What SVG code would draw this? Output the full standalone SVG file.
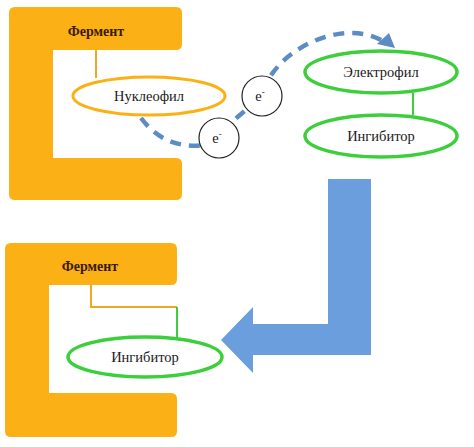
<svg xmlns="http://www.w3.org/2000/svg" width="474" height="447" viewBox="0 0 474 447">
<style>
.enz{fill:#fbb116}
.lbl{font-family:"Liberation Serif","DejaVu Serif",serif;font-size:14.5px;fill:#1a1a1a;text-anchor:middle}
.enzt{font-family:"Liberation Serif","DejaVu Serif",serif;font-size:14px;font-weight:bold;fill:#3a1a05;text-anchor:middle}
.ov{fill:#fff;stroke:#fbb116;stroke-width:3}
.gv{fill:#fff;stroke:#3ccf3c;stroke-width:3.5}
.el{fill:#fff;stroke:#222;stroke-width:1.2}
.oline{stroke:#f0a820;stroke-width:2;fill:none}
.gline{stroke:#3ccf3c;stroke-width:2;fill:none}
</style>
<rect width="474" height="447" fill="#fff"/>
<g id="enzyme-top">
<path class="enz" d="M15,7 H176 Q182,7 182,13 V44 Q182,50 176,50 H53 V158 H176 Q182,158 182,164 V194 Q182,200 176,200 H15 Q9,200 9,194 V13 Q9,7 15,7 Z"/>
<text class="enzt" x="96" y="36">Фермент</text>
</g>
<g id="connectors">
<line class="oline" x1="96" y1="50" x2="96" y2="78"/>
<line class="gline" x1="413" y1="93" x2="413" y2="115"/>
<polyline class="oline" points="91,285 91,307 177,307"/>
<line class="gline" x1="177" y1="307" x2="177" y2="338"/>
<path d="M141,118 Q165,150 205,145 L262,96 C272,50 345,15 386,43" fill="none" stroke="#5b8cc4" stroke-width="4.5" stroke-dasharray="11,8"/>
<polygon points="395,48 377,44 389,33" fill="#5b8cc4"/>
<path d="M328,179 H371 V355 H253 V373 L221,340 L253,307 V324 H328 Z" fill="#6a9edc"/>
</g>
<g id="nucleophile">
<ellipse class="ov" cx="149" cy="96" rx="76" ry="19"/>
<text class="lbl" x="149" y="101">Нуклеофил</text>
</g>
<g id="e1">
<circle class="el" cx="262" cy="96" r="20"/>
<text class="lbl" x="260" y="101" font-size="15">e<tspan font-size="9" dy="-6">-</tspan></text>
</g>
<g id="e2">
<circle class="el" cx="219" cy="138" r="20"/>
<text class="lbl" x="217" y="143" font-size="15">e<tspan font-size="9" dy="-6">-</tspan></text>
</g>
<g id="electrophile">
<ellipse class="gv" cx="381" cy="72" rx="76" ry="21"/>
<text class="lbl" x="381" y="77">Электрофил</text>
</g>
<g id="inhibitor-top">
<ellipse class="gv" cx="381" cy="136" rx="76" ry="21"/>
<text class="lbl" x="381" y="141">Ингибитор</text>
</g>
<g id="enzyme-bottom">
<path class="enz" d="M11,243 H171 Q177,243 177,249 V279 Q177,285 171,285 H49 V393 H171 Q177,393 177,399 V431 Q177,437 171,437 H11 Q5,437 5,431 V249 Q5,243 11,243 Z"/>
<text class="enzt" x="90" y="271">Фермент</text>
</g>
<g id="inhibitor-bottom">
<ellipse class="gv" cx="145" cy="357" rx="77" ry="20"/>
<text class="lbl" x="145" y="362">Ингибитор</text>
</g>
</svg>
